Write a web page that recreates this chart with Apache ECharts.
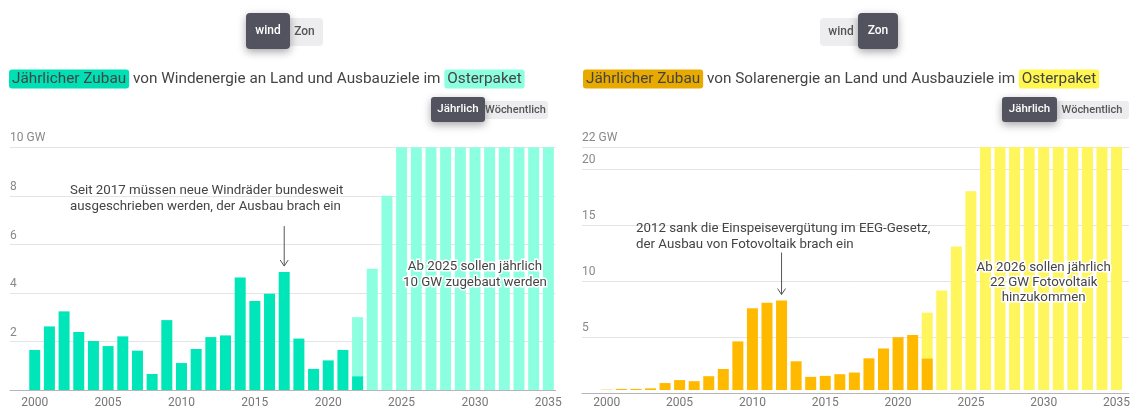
<!DOCTYPE html>
<html>
<head>
<meta charset="utf-8">
<script src="https://cdn.jsdelivr.net/npm/echarts@6/dist/echarts.min.js"></script>
<style>
html, body { margin: 0; padding: 0; background: #fff; }
#chart { width: 1133px; height: 409px; }
</style>
</head>
<body>
<div id="chart"></div>
<script>
var years = ["2000", "2001", "2002", "2003", "2004", "2005", "2006", "2007", "2008", "2009",
    "2010", "2011", "2012", "2013", "2014", "2015", "2016", "2017", "2018", "2019",
    "2020", "2021", "2022", "2023", "2024", "2025", "2026", "2027", "2028", "2029",
    "2030", "2031", "2032", "2033", "2034", "2035"];

// Wind an Land, GW pro Jahr
var windActual = [1.65, 2.62, 3.24, 2.39, 2.02, 1.81, 2.21, 1.62, 0.66, 2.88,
    1.11, 1.69, 2.18, 2.25, 4.64, 3.67, 3.97, 4.86, 2.12, 0.87,
    1.22, 1.65, 0.56, null, null, null, null, null, null, null,
    null, null, null, null, null, null];
var windPlan = [null, null, null, null, null, null, null, null, null, null,
    null, null, null, null, null, null, null, null, null, null,
    null, null, 3, 5, 8, 10, 10, 10, 10, 10,
    10, 10, 10, 10, 10, 10];

// Solar, GW pro Jahr
var solarActual = [0.03, 0.1, 0.1, 0.15, 0.63, 0.9, 0.8, 1.25, 1.9, 4.4,
    7.4, 7.9, 8.1, 2.6, 1.19, 1.28, 1.43, 1.58, 2.87, 3.76,
    4.78, 4.98, 2.84, null, null, null, null, null, null, null,
    null, null, null, null, null, null];
var solarPlan = [null, null, null, null, null, null, null, null, null, null,
    null, null, null, null, null, null, null, null, null, null,
    null, null, 7, 9, 13, 18, 22, 22, 22, 22,
    22, 22, 22, 22, 22, 22];

var windMax = 10, windStep = 2;
var solarMax = 22, solarStep = 5;

var FONT = "Roboto, 'Noto Sans', sans-serif";
var C_WIND = "#00e6b9", C_WIND_PLAN = "#8cffe0";
var C_SOLAR = "#ffba00", C_SOLAR_PLAN = "#fff55c";

var chart = echarts.init(document.getElementById("chart"), null, {renderer: "canvas"});

function gridLinesAxis(idx, max, step, unit) {
    return {
        type: "value", gridIndex: idx, min: 0, max: max, interval: step,
        axisLine: {show: false}, axisTick: {show: false},
        splitLine: {lineStyle: {color: "#e4e4e4", width: 1}},
        axisLabel: {
            inside: true, margin: 0, verticalAlign: "bottom", padding: [0, 0, 3, 0],
            color: "#888", fontSize: 12, fontFamily: FONT,
            formatter: function (v) {
                if (v === 0) return "";
                if (v === max) return v + " " + unit;
                return v;
            }
        }
    };
}

function every5(i) { return i % 5 === 0; }

function barXAxis(idx) {
    return {
        type: "category", gridIndex: idx, data: years,
        axisLine: {show: false},
        axisTick: {interval: every5, alignWithLabel: true, length: 4, lineStyle: {color: "#888"}},
        axisLabel: {interval: every5, color: "#777", fontSize: 12, fontFamily: FONT, margin: 7}
    };
}

function baseXAxis(idx) {
    return {
        type: "value", gridIndex: idx, min: 0, max: 1,
        axisLine: {show: true, lineStyle: {color: "#b5b5b5", width: 1}},
        axisTick: {show: false}, axisLabel: {show: false}, splitLine: {show: false}
    };
}

function bars(name, idx, data, color) {
    return {
        name: name, type: "bar", xAxisIndex: idx, yAxisIndex: idx, data: data,
        barWidth: 11, barGap: "-100%", itemStyle: {color: color},
        silent: true, animation: false
    };
}

chart.setOption({
    animation: false,
    grid: [
        {left: 10, top: 147.3, width: 545.5, height: 243},
        {left: 27.4, top: 147.3, width: 528.3, height: 243},
        {left: 582, top: 147, width: 547, height: 246.3},
        {left: 599.5, top: 147, width: 527.1, height: 246.3}
    ],
    xAxis: [baseXAxis(0), barXAxis(1), baseXAxis(2), barXAxis(3)],
    yAxis: [
        gridLinesAxis(0, windMax, windStep, "GW"),
        {type: "value", gridIndex: 1, min: 0, max: windMax, show: false},
        gridLinesAxis(2, solarMax, solarStep, "GW"),
        {type: "value", gridIndex: 3, min: 0, max: solarMax, show: false}
    ],
    series: [
        bars("Ausbauziel Wind", 1, windPlan, C_WIND_PLAN),
        bars("Zubau Wind", 1, windActual, C_WIND),
        bars("Ausbauziel Solar", 3, solarPlan, C_SOLAR_PLAN),
        bars("Zubau Solar", 3, solarActual, C_SOLAR)
    ]
});

function button(x, y, w, h, r, label, active, size) {
    return [{
        type: "rect", z: active ? 11 : 10,
        shape: {x: x, y: y, width: w, height: h, r: r},
        style: {
            fill: active ? "#52535f" : "#ededf0",
            shadowBlur: active ? 8 : 0, shadowOffsetY: active ? 3 : 0,
            shadowColor: "rgba(0,0,0,0.35)"
        }
    }, {
        type: "text", z: 12, x: x + w / 2, y: y + h / 2,
        style: {
            text: label, fill: active ? "#fff" : "#555",
            font: "500 " + (size || 12) + "px " + FONT, align: "center", verticalAlign: "middle"
        }
    }];
}

function heading(x, mid, colA, colB) {
    var f = 15.3;
    return {
        type: "text", x: x, y: 79, z: 10,
        style: {
            text: "{a|Jährlicher Zubau} von " + mid + " an Land und Ausbauziele im {b|Osterpaket}",
            font: f + "px " + FONT, fill: "#444", verticalAlign: "middle",
            rich: {
                a: {backgroundColor: colA, color: "#fff", padding: [2, 3, 2, 3], borderRadius: 3, fontSize: f, fontFamily: FONT},
                b: {backgroundColor: colB, color: "#1d3b30", padding: [2, 3, 2, 3], borderRadius: 3, fontSize: f, fontFamily: FONT}
            }
        }
    };
}

function arrow(x, yBottom, len) {
    return [{
        type: "line", z: 10,
        shape: {x1: x, y1: yBottom - len, x2: x, y2: yBottom},
        style: {stroke: "#555", lineWidth: 1}
    }, {
        type: "polyline", z: 10,
        shape: {points: [[x - 4, yBottom - 6], [x, yBottom], [x + 4, yBottom - 6]]},
        style: {stroke: "#555", lineWidth: 1, fill: null}
    }];
}

function note(x, y, text, lh) {
    return {
        type: "text", x: x, y: y, z: 10,
        style: {text: text, font: "13.3px " + FONT, fill: "#444", lineHeight: lh}
    };
}

function goal(p, text, lh) {
    return {
        type: "text", x: p[0], y: p[1], z: 10,
        style: {
            text: text, font: "13.3px " + FONT, fill: "#444", lineHeight: lh,
            align: "center", verticalAlign: "middle",
            stroke: "#fff", lineWidth: 3
        }
    };
}

var windTop = chart.convertToPixel({xAxisIndex: 1, yAxisIndex: 1}, ["2017", windActual[17]]);
var solarTop = chart.convertToPixel({xAxisIndex: 3, yAxisIndex: 3}, ["2012", solarActual[12]]);
var windGoal = chart.convertToPixel({xAxisIndex: 1, yAxisIndex: 1}, ["2030", 4.75]);
var solarGoal = chart.convertToPixel({xAxisIndex: 3, yAxisIndex: 3}, ["2030", 9.7]);

var g = [];
g = g.concat(button(286, 18, 37, 28, 4, "Zon", false), button(246, 13, 44, 36, 4, "wind", true));
g = g.concat(button(820, 18, 42, 28, 4, "wind", false), button(858, 13, 40, 36, 4, "Zon", true));
g = g.concat(button(483, 101, 65, 18, 3, "Wöchentlich", false, 11), button(431, 97, 54, 25, 3, "Jährlich", true, 11.5));
g = g.concat(button(1055, 101, 74, 18, 3, "Wöchentlich", false, 11), button(1002, 97, 55, 25, 3, "Jährlich", true, 11.5));
g.push(heading(9, "Windenergie", "#00e0b4", C_WIND_PLAN));
g.push(heading(583, "Solarenergie", "#e9aa00", "#fff64f"));
g = g.concat(arrow(windTop[0], windTop[1] - 6, 40), arrow(solarTop[0], solarTop[1] - 6, 42));
g.push(note(70, 183, "Seit 2017 müssen neue Windräder bundesweit\nausgeschrieben werden, der Ausbau brach ein", 16));
g.push(note(636, 221, "2012 sank die Einspeisevergütung im EEG-Gesetz,\nder Ausbau von Fotovoltaik brach ein", 16));
g.push(goal(windGoal, "Ab 2025 sollen jährlich\n10 GW zugebaut werden", 16));
g.push(goal(solarGoal, "Ab 2026 sollen jährlich\n22 GW Fotovoltaik\nhinzukommen", 15));

chart.setOption({graphic: g});
</script>
</body>
</html>
